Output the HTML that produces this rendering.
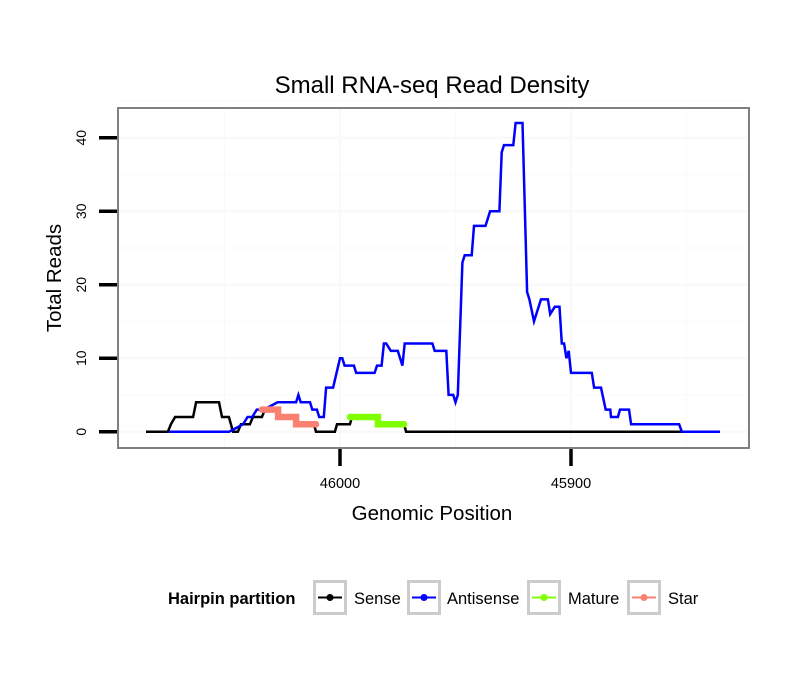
<!DOCTYPE html>
<html><head><meta charset="utf-8"><style>
body{margin:0;background:#fff;}
svg{display:block;font-family:"Liberation Sans",Arial,sans-serif;}
</style></head><body>
<svg id="chart" width="810" height="690">
<rect width="810" height="690" fill="#fff"/>
<text x="432" y="93" font-size="24" text-anchor="middle">Small RNA-seq Read Density</text>
<g id="grid"></g>
<g id="series"></g>
<rect x="118" y="108" width="631" height="340" fill="none" stroke="#808080" stroke-width="2"/>
<g id="axes"></g>
<text x="432" y="520" font-size="20.5" text-anchor="middle">Genomic Position</text>
<text transform="translate(61,278) rotate(-90)" font-size="20.5" text-anchor="middle">Total Reads</text>
<g id="legend">
<text x="168" y="604" font-size="16.5" font-weight="bold">Hairpin partition</text>
</g>
</svg>
<script>
const yTicks=[0,10,20,30,40];
const xTicks=[46000,45900];
const sensePos=[46084,46074.5,46073.2,46071.4,46063.6,46062.3,46052.4,46051.1,46048.1,46046.3,46044.2,46042.9,46039,46037.7,46033.8,46032.5,46026.8,46026,46019,46018.2,46011.3,46010.4,46002.2,46001.3,45995.7,45994.8,45983.6,45982.7,45972.3,45971.4,45835.5];
const senseVal=[0,0,1,2,2,4,4,2,2,0,0,1,1,2,2,3,3,2,2,1,1,0,0,1,1,2,2,1,1,0,0];
const antiPos=[46074,46048,46042,46040,46038,46036,46033,46027,46019,46018,46017,46013,46012,46010,46009,46007,46006,46003,46000,45999,45998,45994,45993,45985,45984,45982,45981,45980,45978,45975,45973,45972,45960,45959,45954,45953,45951,45950,45949,45947,45946,45943,45942,45937,45935,45931,45930,45929,45925,45924,45921,45919,45918,45916,45913,45910,45909,45907,45905,45904,45903,45902,45901,45900,45891,45890,45887,45885,45883,45882.7,45879.7,45878.8,45874.9,45874,45853.2,45852,45835.5];
const antiVal=[0,0,1,2,2,3,3,4,4,5,4,4,3,3,2,2,6,6,10,10,9,9,8,8,9,9,12,12,11,11,9,12,12,11,11,5,5,4,5,23,24,24,28,28,30,30,38,39,39,42,42,19,18,15,18,18,16,17,17,12,12,10,11,8,8,6,6,3,3,2,2,3,3,1,1,0,0];
const starPos=[46033.8,46026.8,46026.8,46019,46019,46010.4];
const starVal=[3,3,2,2,1,1];
const maturePos=[45995.7,45983.6,45983.6,45972.3];
const matureVal=[2,2,1,1];
const legendLabels=["Sense","Antisense","Mature","Star"];
const legendColors=["#000000","#0000ff","#7fff00","#fa8072"];

const NS="http://www.w3.org/2000/svg";
function X(p){return 340+(46000-p)*2.31;}
function Y(v){return 431.7-v*7.35;}
function mk(tag,attrs,parent){const e=document.createElementNS(NS,tag);for(const k in attrs)e.setAttribute(k,attrs[k]);parent.appendChild(e);return e;}
const grid=document.getElementById('grid'),series=document.getElementById('series'),axes=document.getElementById('axes'),legend=document.getElementById('legend');
for(let v=0;v<=45;v+=5){const l=mk('line',{x1:119,x2:748,y1:Y(v),y2:Y(v),stroke:'#f9f9f9','stroke-width':v%10?1:2.5},grid);

}
for(let p=46050;p>=45850;p-=50){const x=X(p);if(x<119||x>748)continue;const l=mk('line',{x1:x,x2:x,y1:109,y2:447,stroke:'#f9f9f9','stroke-width':p%100?1:2.5},grid);

}
yTicks.forEach(v=>{const t=mk('line',{x1:99,x2:117,y1:Y(v),y2:Y(v),stroke:'#000','stroke-width':3.5},axes);


const tx=mk('text',{transform:`translate(86,${Y(v)}) rotate(-90)`,'font-size':14,'text-anchor':'middle'},axes);tx.textContent=v;

});
xTicks.forEach(p=>{const t=mk('line',{x1:X(p),x2:X(p),y1:449,y2:466,stroke:'#000','stroke-width':3.5},axes);


const tx=mk('text',{x:X(p),y:488,'font-size':14.5,'text-anchor':'middle'},axes);tx.textContent=p;

});
function pts(ps,vs){return ps.map((p,i)=>X(p).toFixed(1)+','+Y(vs[i]).toFixed(1)).join(' ');}
let s=mk('polyline',{points:pts(sensePos,senseVal),fill:'none',stroke:'#000','stroke-width':2.5},series);


s=mk('polyline',{points:pts(antiPos,antiVal),fill:'none',stroke:'#0000ff','stroke-width':2.5},series);


s=mk('polyline',{points:pts(starPos,starVal),fill:'none',stroke:'#fa8072','stroke-width':6.5,'stroke-linecap':'round'},series);


s=mk('polyline',{points:pts(maturePos,matureVal),fill:'none',stroke:'#7fff00','stroke-width':6.5,'stroke-linecap':'round'},series);


const lx=[313,407,527,627],tx=[354,447,568,668];
legendLabels.forEach((lab,i)=>{
const g=mk('g',{},legend);


mk('rect',{x:lx[i]+1.5,y:581.5,width:31,height:32,fill:'#fff',stroke:'#cccccc','stroke-width':3},g);
mk('line',{x1:lx[i]+5,x2:lx[i]+29,y1:597.5,y2:597.5,stroke:legendColors[i],'stroke-width':2},g);
mk('circle',{cx:lx[i]+17,cy:597.5,r:3.5,fill:legendColors[i]},g);
const t=mk('text',{x:tx[i],y:604,'font-size':16.5},g);t.textContent=lab;});
</script>
</body></html>
